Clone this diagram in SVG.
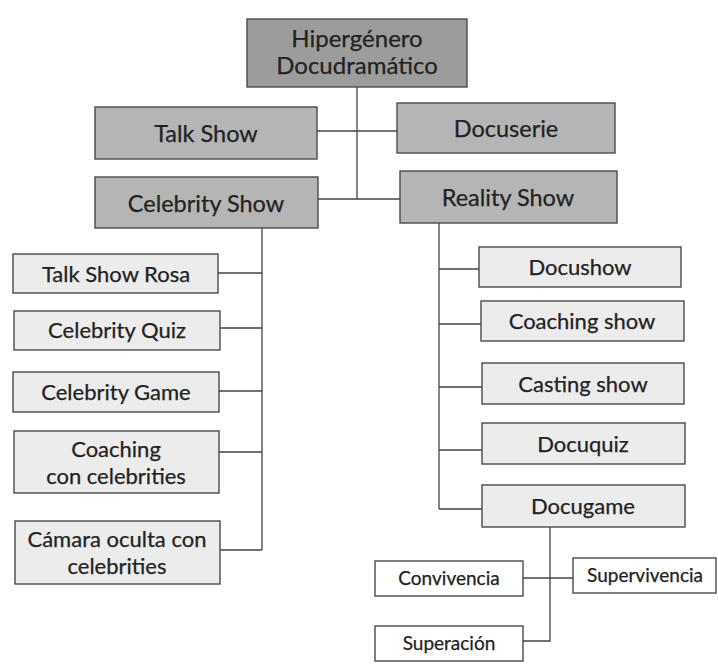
<svg xmlns="http://www.w3.org/2000/svg" width="718" height="672" viewBox="0 0 718 672">
<style>
.box{stroke:#4a4a4a;stroke-width:1.4}
.top{fill:#9c9c9c}
.main{fill:#b5b5b5}
.sub{fill:#ececec}
.leaf{fill:#ffffff}
text{font-family:Lato,"Open Sans","Liberation Sans",sans-serif;fill:#222;text-anchor:middle;stroke:#222;stroke-width:0.25}
.t0{font-size:24px}
.t1{font-size:23.5px}
.t2{font-size:22px}
.t3{font-size:19px}
.conn{stroke:#444;stroke-width:1.3;fill:none}
</style>
<rect width="718" height="672" fill="#ffffff"/>
<g id="connectors" class="conn">
<path d="M357 87V199"/>
<path d="M317 131H397"/>
<path d="M318 199H400"/>
<path d="M262 228V550"/>
<path d="M218 273H262M220 328H262M219 391H262M219 452H262M220 550H262"/>
<path d="M439 223V509"/>
<path d="M439 269H479M439 324H481M439 387H482M439 450H482M439 509H482"/>
<path d="M550 527V641H523"/>
<path d="M523 578H573"/>
</g>
<g id="n-hipergenero"><rect class="box top" x="247" y="19" width="220" height="68"/><text class="t0" x="357" y="47">Hipergénero</text><text class="t0" x="357" y="74">Docudramático</text></g>
<g id="n-talkshow"><rect class="box main" x="95" y="107" width="222" height="52"/><text class="t1" x="206" y="142">Talk Show</text></g>
<g id="n-docuserie"><rect class="box main" x="397" y="103" width="218" height="50"/><text class="t1" x="506" y="137">Docuserie</text></g>
<g id="n-celebrityshow"><rect class="box main" x="95" y="177" width="223" height="51"/><text class="t1" x="206" y="212">Celebrity Show</text></g>
<g id="n-realityshow"><rect class="box main" x="400" y="171" width="217" height="52"/><text class="t1" x="508" y="206">Reality Show</text></g>
<g id="n-talkshowrosa"><rect class="box sub" x="13" y="254" width="205" height="39"/><text class="t2" x="116" y="282">Talk Show Rosa</text></g>
<g id="n-celebrityquiz"><rect class="box sub" x="14" y="311" width="206" height="39"/><text class="t2" x="117" y="338">Celebrity Quiz</text></g>
<g id="n-celebritygame"><rect class="box sub" x="13" y="372" width="206" height="40"/><text class="t2" x="116" y="400">Celebrity Game</text></g>
<g id="n-coachingcelebrities"><rect class="box sub" x="14" y="431" width="205" height="62"/><text class="t2" x="116" y="457">Coaching</text><text class="t2" x="116" y="484">con celebrities</text></g>
<g id="n-camaraoculta"><rect class="box sub" x="15" y="521" width="205" height="63"/><text class="t2" x="117" y="547">Cámara oculta con</text><text class="t2" x="117" y="574">celebrities</text></g>
<g id="n-docushow"><rect class="box sub" x="479" y="247" width="202" height="40"/><text class="t2" x="580" y="275">Docushow</text></g>
<g id="n-coachingshow"><rect class="box sub" x="481" y="301" width="203" height="40"/><text class="t2" x="582" y="329">Coaching show</text></g>
<g id="n-castingshow"><rect class="box sub" x="482" y="363" width="202" height="41"/><text class="t2" x="583" y="392">Casting show</text></g>
<g id="n-docuquiz"><rect class="box sub" x="482" y="423" width="203" height="41"/><text class="t2" x="583" y="452">Docuquiz</text></g>
<g id="n-docugame"><rect class="box sub" x="482" y="485" width="203" height="42"/><text class="t2" x="583" y="514">Docugame</text></g>
<g id="n-convivencia"><rect class="box leaf" x="375" y="561" width="148" height="35"/><text class="t3" x="449" y="585">Convivencia</text></g>
<g id="n-supervivencia"><rect class="box leaf" x="573" y="558" width="143" height="35"/><text class="t3" x="645" y="582">Supervivencia</text></g>
<g id="n-superacion"><rect class="box leaf" x="375" y="626" width="148" height="35"/><text class="t3" x="449" y="650">Superación</text></g>
</svg>
